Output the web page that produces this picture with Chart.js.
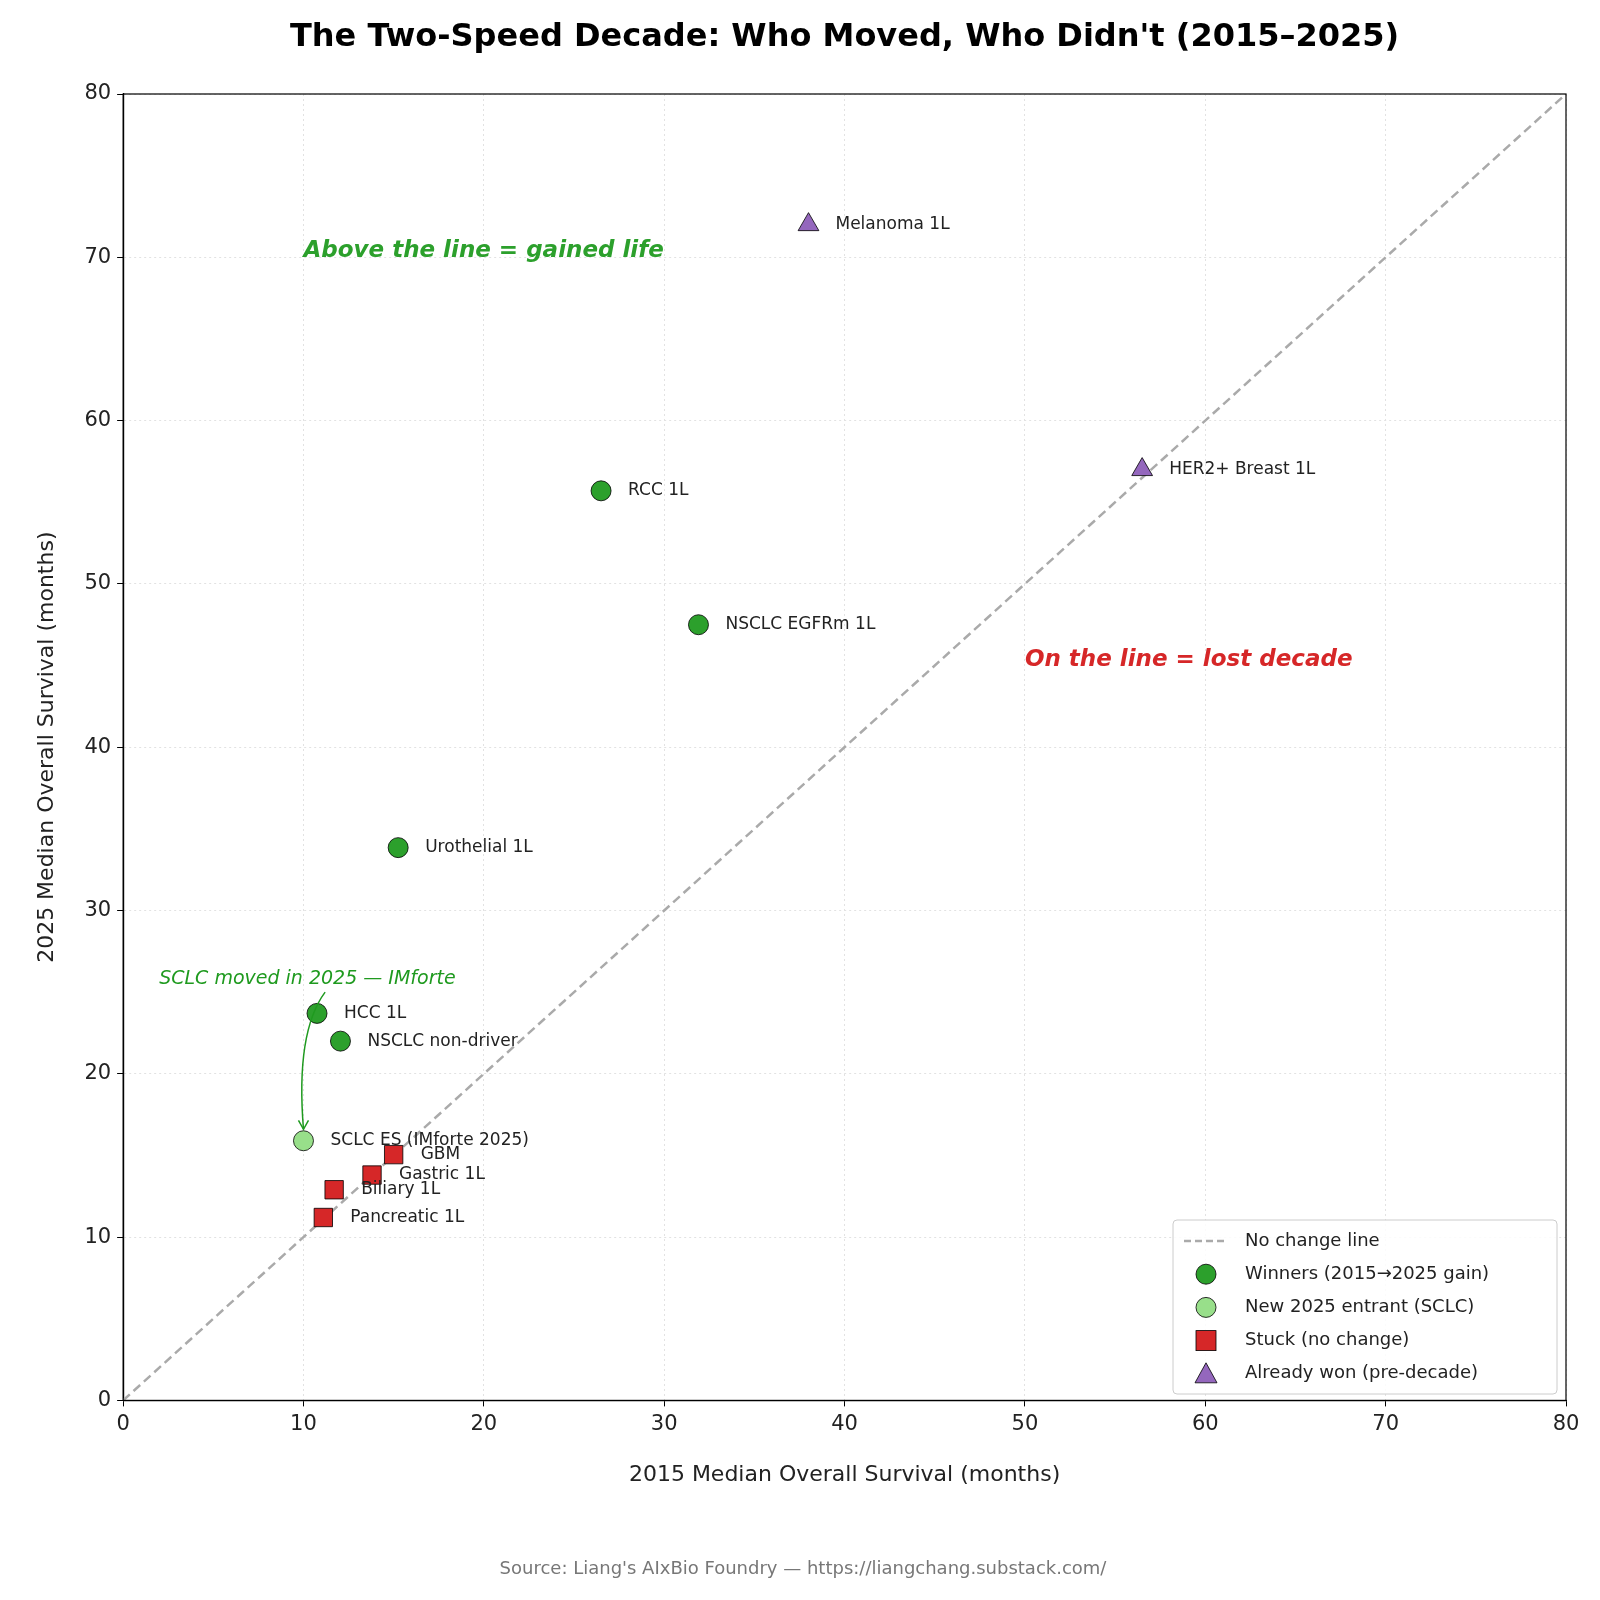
<!DOCTYPE html>
<html>
<head>
<meta charset="utf-8">
<script src="https://cdn.jsdelivr.net/npm/chart.js@4/dist/chart.umd.min.js"></script>
<style>
  body { margin: 0; background: #fff; }
  #wrap { width: 1600px; height: 1600px; position: relative; }
</style>
</head>
<body>
<div id="wrap"><canvas id="c" width="1600" height="1600"></canvas></div>
<script>
// data (months)
const winnerNames = ["RCC 1L", "NSCLC EGFRm 1L", "Urothelial 1L", "HCC 1L", "NSCLC non-driver"];
const winner2015 = [26.5, 31.9, 15.25, 10.75, 12.05];
const winner2025 = [55.7, 47.5, 33.85, 23.7, 22.0];

const entrantNames = ["SCLC ES (IMforte 2025)"];
const entrant2015 = [10.0];
const entrant2025 = [15.9];

const stuckNames = ["GBM", "Gastric 1L", "Biliary 1L", "Pancreatic 1L"];
const stuck2015 = [15.0, 13.8, 11.7, 11.1];
const stuck2025 = [15.05, 13.8, 12.9, 11.2];

const wonNames = ["Melanoma 1L", "HER2+ Breast 1L"];
const won2015 = [38, 56.5];
const won2025 = [72, 57];

const xTicks = [0, 10, 20, 30, 40, 50, 60, 70, 80];
const yTicks = [0, 10, 20, 30, 40, 50, 60, 70, 80];

const pts = (xs, ys) => xs.map((x, i) => ({ x: x, y: ys[i] }));
const FONT = "'DejaVu Sans', sans-serif";

const labelPlugin = {
  id: "labels",
  afterDatasetsDraw(chart) {
    const { ctx, chartArea: a, scales: { x, y } } = chart;
    ctx.save();
    // title
    ctx.font = "bold 32px " + FONT;
    ctx.fillStyle = "#000";
    ctx.textAlign = "center";
    ctx.textBaseline = "middle";
    ctx.fillText("The Two-Speed Decade: Who Moved, Who Didn't (2015\u20132025)", (a.left + a.right) / 2, 38);
    ctx.textAlign = "left";
    ctx.font = "17px " + FONT;
    ctx.fillStyle = "#222";
    const groups = [[winnerNames, winner2015, winner2025], [entrantNames, entrant2015, entrant2025],
      [stuckNames, stuck2015, stuck2025], [wonNames, won2015, won2025]];
    groups.forEach(([n, xs, ys]) => n.forEach((name, i) => {
      ctx.fillText(name, x.getPixelForValue(xs[i]) + 27, y.getPixelForValue(ys[i]));
    }));
    // annotations
    ctx.font = "italic bold 23px " + FONT;
    ctx.fillStyle = "#2ca02c";
    ctx.textBaseline = "alphabetic";
    ctx.fillText("Above the line = gained life", x.getPixelForValue(10), y.getPixelForValue(70));
    ctx.fillStyle = "#d62728";
    ctx.fillText("On the line = lost decade", x.getPixelForValue(50), y.getPixelForValue(45));
    ctx.font = "italic 19px " + FONT;
    ctx.fillStyle = "#1f9a1f";
    ctx.fillText("SCLC moved in 2025 \u2014 IMforte", x.getPixelForValue(2), y.getPixelForValue(25.5));
    // arrow
    const x0 = x.getPixelForValue(11.2), y0 = y.getPixelForValue(25.0);
    const x1 = x.getPixelForValue(10.0), y1 = y.getPixelForValue(16.6);
    ctx.strokeStyle = "#1f9a1f";
    ctx.lineWidth = 1.5;
    ctx.beginPath();
    ctx.moveTo(x0, y0);
    ctx.quadraticCurveTo(x1 - 8, y0 + 40, x1, y1);
    ctx.stroke();
    ctx.beginPath();
    ctx.moveTo(x1 - 5, y1 - 9);
    ctx.lineTo(x1, y1);
    ctx.lineTo(x1 + 5, y1 - 9);
    ctx.stroke();
    // legend
    const lx = 1173, ly = 1220, lw = 384, lh = 174;
    ctx.fillStyle = "rgba(255,255,255,0.85)";
    ctx.strokeStyle = "#ccc";
    ctx.lineWidth = 1;
    ctx.beginPath();
    ctx.roundRect(lx, ly, lw, lh, 4);
    ctx.fill(); ctx.stroke();
    const items = ["No change line", "Winners (2015\u21922025 gain)", "New 2025 entrant (SCLC)", "Stuck (no change)", "Already won (pre-decade)"];
    ctx.font = "18px " + FONT;
    ctx.textBaseline = "middle";
    items.forEach((t, i) => {
      const cy = ly + 21 + i * 33.2, cx = lx + 33;
      ctx.strokeStyle = "#000"; ctx.lineWidth = 0.8;
      if (i === 0) {
        ctx.strokeStyle = "#aaa"; ctx.lineWidth = 2.5; ctx.setLineDash([7, 4]);
        ctx.beginPath(); ctx.moveTo(cx - 22, cy); ctx.lineTo(cx + 22, cy); ctx.stroke();
        ctx.setLineDash([]);
      } else if (i === 1 || i === 2) {
        ctx.fillStyle = i === 1 ? "#2ca02c" : "#98df8a";
        ctx.beginPath(); ctx.arc(cx, cy, 10, 0, Math.PI * 2); ctx.fill(); ctx.stroke();
      } else if (i === 3) {
        ctx.fillStyle = "#d62728";
        ctx.fillRect(cx - 10, cy - 10, 20, 20); ctx.strokeRect(cx - 10, cy - 10, 20, 20);
      } else {
        ctx.fillStyle = "#9467bd";
        ctx.beginPath(); ctx.moveTo(cx, cy - 11); ctx.lineTo(cx + 11, cy + 9); ctx.lineTo(cx - 11, cy + 9);
        ctx.closePath(); ctx.fill(); ctx.stroke();
      }
      ctx.fillStyle = "#222";
      ctx.fillText(t, lx + 72, cy);
    });
    // source
    ctx.font = "18px " + FONT;
    ctx.fillStyle = "#777";
    ctx.textAlign = "center";
    ctx.fillText("Source: Liang's AIxBio Foundry \u2014 https://liangchang.substack.com/", 803, 1569);
    ctx.restore();
  }
};

const marker = (bg) => ({ backgroundColor: bg, borderColor: "#000", borderWidth: 0.8 });

new Chart(document.getElementById("c"), {
  type: "scatter",
  data: {
    datasets: [
      { label: "No change line", type: "line", data: [{ x: 0, y: 0 }, { x: 80, y: 80 }],
        borderColor: "#aaa", borderWidth: 2.5, borderDash: [9, 5], pointRadius: 0, order: 5 },
      { label: "Winners", data: pts(winner2015, winner2025), ...marker("#2ca02c"), pointRadius: 10, pointStyle: "circle" },
      { label: "Entrant", data: pts(entrant2015, entrant2025), ...marker("#98df8a"), pointRadius: 10, pointStyle: "circle" },
      { label: "Stuck", data: pts(stuck2015, stuck2025), ...marker("#d62728"), pointRadius: 13, pointStyle: "rect" },
      { label: "Won", data: pts(won2015, won2025), ...marker("#9467bd"), pointRadius: 12, pointStyle: "triangle" }
    ]
  },
  options: {
    responsive: false,
    animation: false,
    layout: { padding: { left: 30, right: 34, top: 94, bottom: 108 } },
    plugins: {
      legend: { display: false },
      tooltip: { enabled: false }
    },
    scales: {
      x: {
        min: 0, max: 80,
        afterBuildTicks: (a) => { a.ticks = xTicks.map(v => ({ value: v })); },
        title: { display: true, text: "2015 Median Overall Survival (months)", font: { family: FONT, size: 22 }, color: "#222", padding: { top: 18 } },
        ticks: { font: { family: FONT, size: 21 }, color: "#222", padding: 6 },
        grid: { color: "#e2e2e2", tickLength: 6, tickColor: "#000" },
        border: { color: "#000", width: 1.2, dash: [2, 3] }
      },
      y: {
        min: 0, max: 80,
        afterBuildTicks: (a) => { a.ticks = yTicks.map(v => ({ value: v })); },
        title: { display: true, text: "2025 Median Overall Survival (months)", font: { family: FONT, size: 22 }, color: "#222", padding: { bottom: 18 } },
        ticks: { font: { family: FONT, size: 21 }, color: "#222", padding: 6 },
        grid: { color: "#e2e2e2", tickLength: 6, tickColor: "#000" },
        border: { color: "#000", width: 1.2, dash: [2, 3] }
      }
    }
  },
  plugins: [labelPlugin, {
    id: "frame",
    afterDraw(chart) {
      const { ctx, chartArea: a } = chart;
      ctx.save(); ctx.strokeStyle = "#000"; ctx.lineWidth = 1.2;
      ctx.strokeRect(a.left, a.top, a.right - a.left, a.bottom - a.top); ctx.restore();
    }
  }]
});
</script>
</body>
</html>
